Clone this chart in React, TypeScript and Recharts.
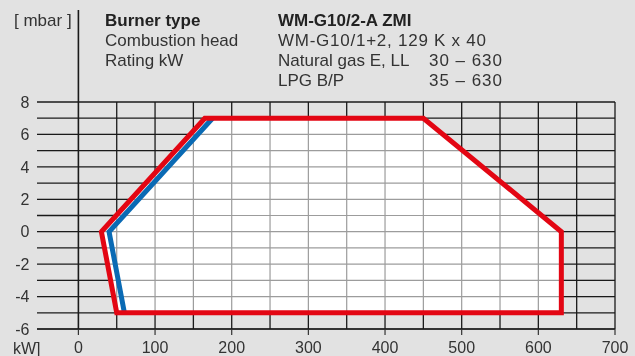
import React from "react";
import {
  ComposedChart,
  Area,
  Line,
  XAxis,
  YAxis,
  ReferenceLine,
} from "recharts";

// Firing envelope, natural gas E/LL (red) – kW vs. mbar
const gasKW = [30, 165, 450, 630, 630, 50];
const gasMbar = [0, 7, 7, 0, -5, -5];

// Firing envelope, LPG B/P (blue) – left boundary only
const lpgKW = [175, 40, 60];
const lpgMbar = [7, 0, -5];

const xTicks = [0, 100, 200, 300, 400, 500, 600, 700];
const yTicks = [-6, -4, -2, 0, 2, 4, 6, 8];
const gridKW = [0, 50, 100, 150, 200, 250, 300, 350, 400, 450, 500, 550, 600, 650, 700];
const gridMbar = [-6, -5, -4, -3, -2, -1, 0, 1, 2, 3, 4, 5, 6, 7, 8];

const FONT = '"Liberation Sans", Arial, Helvetica, sans-serif';
const TEXT = "#333";
const BG = "#e2e2e2";
const RED = "#e30613";
const BLUE = "#0a6ab4";

const pick = (idx: number[]) => idx.map((i) => ({ x: gasKW[i], y: gasMbar[i] }));

// outline repeats the first edge so the start corner gets a proper join
const gasOutline = pick([0, 1, 2, 3, 4, 5, 0, 1]);
const gasUpper = pick([0, 1, 2, 3]); // part above 0 mbar
const gasLower = pick([0, 5, 4]); // part below 0 mbar
const lpgLine = lpgKW.map((x, i) => ({ x, y: lpgMbar[i] }));

const tickStyle = { fontSize: 16, fill: TEXT, fontFamily: FONT };

export default function App() {
  return (
    <div
      style={{
        position: "absolute",
        left: 0,
        top: 0,
        width: 635,
        height: 356,
        background: BG,
        fontFamily: FONT,
        overflow: "hidden",
      }}
    >
      {/* grid lines inside the white envelope should look gray, outside black */}
      <style>{`.inner-grid, .inner-grid line { mix-blend-mode: darken; }`}</style>
      <ComposedChart
        width={635}
        height={356}
        margin={{ top: 102, right: 20, bottom: 0, left: 0 }}
      >
        <XAxis
          type="number"
          dataKey="x"
          domain={[-54, 700]}
          ticks={xTicks}
          allowDataOverflow
          height={27}
          tickSize={6}
          tickMargin={7}
          tick={tickStyle}
          tickLine={{ stroke: "#333", strokeWidth: 1.2 }}
          axisLine={{ stroke: "#1a1a1a", strokeWidth: 1.2 }}
        />
        <YAxis
          type="number"
          dataKey="y"
          domain={[-6, 8]}
          ticks={yTicks}
          allowDataOverflow
          width={37}
          tickSize={0}
          tickMargin={7.5}
          tickLine={false}
          axisLine={false}
          tick={tickStyle}
        />

        {gridMbar.map((v) => (
          <ReferenceLine key={`hb${v}`} y={v} stroke="#1a1a1a" strokeWidth={1.3} zIndex={10} />
        ))}
        {gridKW.map((v) => (
          <ReferenceLine key={`vb${v}`} x={v} stroke="#1a1a1a" strokeWidth={v === 0 ? 1.6 : 1.3} zIndex={10} />
        ))}

        <Area
          data={gasUpper}
          dataKey="y"
          type="linear"
          baseValue={0}
          stroke="none"
          fill="#ffffff"
          fillOpacity={1}
          dot={false}
          activeDot={false}
          isAnimationActive={false}
          zIndex={100}
        />
        <Area
          data={gasLower}
          dataKey="y"
          type="linear"
          baseValue={0}
          stroke="none"
          fill="#ffffff"
          fillOpacity={1}
          dot={false}
          activeDot={false}
          isAnimationActive={false}
          zIndex={100}
        />

        {gridMbar.map((v) => (
          <ReferenceLine key={`hg${v}`} y={v} stroke="#9c9c9c" strokeWidth={1.2} className="inner-grid" zIndex={150} />
        ))}
        {gridKW.map((v) => (
          <ReferenceLine key={`vg${v}`} x={v} stroke="#9c9c9c" strokeWidth={1.2} className="inner-grid" zIndex={150} />
        ))}

        <Line
          data={lpgLine}
          dataKey="y"
          type="linear"
          stroke={BLUE}
          strokeWidth={5}
          dot={false}
          activeDot={false}
          isAnimationActive={false}
          zIndex={400}
        />
        <Line
          data={gasOutline}
          dataKey="y"
          type="linear"
          stroke={RED}
          strokeWidth={5}
          dot={false}
          activeDot={false}
          isAnimationActive={false}
          zIndex={410}
        />
      </ComposedChart>

      <svg
        width={635}
        height={356}
        style={{ position: "absolute", left: 0, top: 0, pointerEvents: "none" }}
      >
        <line x1={78.4} y1={10} x2={78.4} y2={102} stroke="#1a1a1a" strokeWidth={1.6} />
        <g fontFamily={FONT} fontSize={17} fill={TEXT}>
          <text x={14} y={26}>[ mbar ]</text>
          <text x={105} y={26} fontWeight="bold" fill="#222">Burner type</text>
          <text x={105} y={46}>Combustion head</text>
          <text x={105} y={66}>Rating kW</text>
          <text x={278} y={26} fontWeight="bold" fill="#222">WM-G10/2-A ZMI</text>
          <text x={278} y={46} textLength={208}>WM-G10/1+2, 129 K x 40</text>
          <text x={278} y={66}>Natural gas E, LL</text>
          <text x={278} y={86}>LPG B/P</text>
          <text x={429} y={66} textLength={73}>30 – 630</text>
          <text x={429} y={86} textLength={73}>35 – 630</text>
          <text x={13} y={353.5} fontSize={16}>kW]</text>
        </g>
      </svg>
    </div>
  );
}
